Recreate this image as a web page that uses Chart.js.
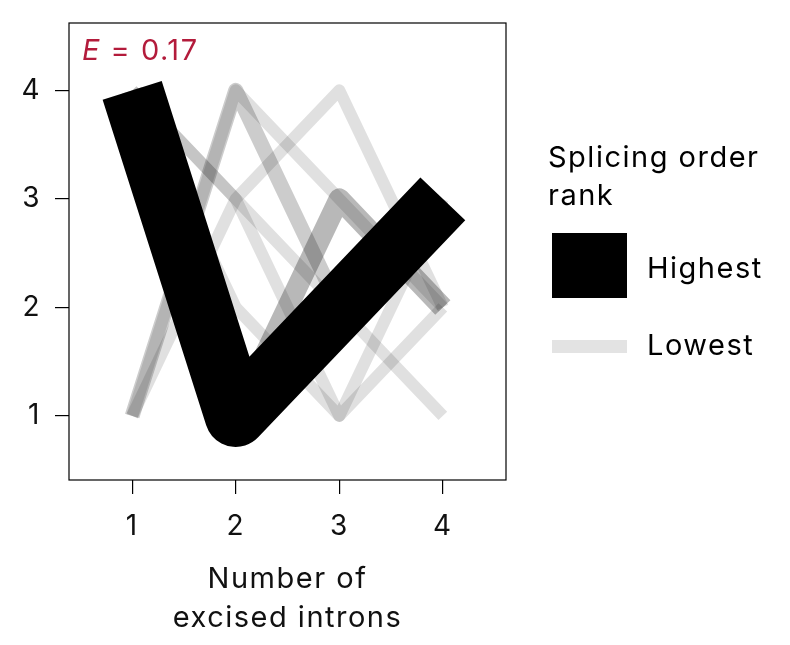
<!DOCTYPE html>
<html>
<head>
<meta charset="utf-8">
<script src="https://cdn.jsdelivr.net/npm/chart.js@4"></script>
<style>
  html, body { margin: 0; padding: 0; background: #fff; }
  canvas { display: block; }
</style>
</head>
<body>
<canvas id="c" width="790" height="645"></canvas>
<script>
/* Порядки сплайсинга: на каждом шаге (число вырезанных интронов) — номер интрона */
const STEPS = [1, 2, 3, 4];
const TICKS = [1, 2, 3, 4];

// от самого частого к редким
const ORDER_TOP = [4, 1, 2, 3];
const ORDER_2 = [4, 1, 3, 2];
const ORDER_3 = [1, 4, 2, 3];
const ORDER_4 = [4, 3, 2, 1];
const ORDER_5 = [4, 3, 1, 2];
const ORDER_6 = [1, 4, 3, 2];
const ORDER_7 = [1, 3, 4, 2];
const ORDER_8 = [4, 2, 1, 3];

const ENTROPY = 0.17;
const FONT = 'Inter, "Noto Sans", sans-serif';

// стиль линии по рангу: толщина и прозрачность
const RANKS = [
    { data: ORDER_TOP, width: 62, color: '#000' },
    { data: ORDER_2, width: 21, color: 'rgba(0,0,0,0.28)' },
    { data: ORDER_3, width: 15, color: 'rgba(0,0,0,0.2)' },
    { data: ORDER_4, width: 12, color: 'rgba(0,0,0,0.12)' },
    { data: ORDER_5, width: 12, color: 'rgba(0,0,0,0.12)' },
    { data: ORDER_6, width: 12, color: 'rgba(0,0,0,0.12)' },
    { data: ORDER_7, width: 12, color: 'rgba(0,0,0,0.12)' },
    { data: ORDER_8, width: 12, color: 'rgba(0,0,0,0.12)' },
];

const boxPlugin = {
    id: 'box',
    beforeDraw(chart) {
        chart.ctx.letterSpacing = '1.5px';
    },
    afterDraw(chart) {
        const { ctx, chartArea: a } = chart;
        ctx.save();
        ctx.strokeStyle = '#000';
        ctx.lineWidth = 1.2;
        ctx.strokeRect(a.left, a.top, a.right - a.left, a.bottom - a.top);

        // E = 0.17
        ctx.fillStyle = '#b31b3b';
        ctx.textBaseline = 'alphabetic';
        ctx.textAlign = 'left';
        ctx.font = 'italic 29px ' + FONT;
        ctx.fillText('E', 82, 60);
        const ew = ctx.measureText('E').width;
        ctx.font = '29px ' + FONT;
        ctx.fillText(' = ' + ENTROPY.toFixed(2), 82 + ew, 60);

        // легенда
        ctx.fillStyle = '#000';
        ctx.fillText('Splicing order', 548, 167);
        ctx.fillText('rank', 548, 205);
        ctx.fillRect(552, 233, 75, 65);
        ctx.fillText('Highest', 647, 278);
        ctx.fillStyle = '#e3e3e3';
        ctx.fillRect(552, 340, 75, 13);
        ctx.fillStyle = '#000';
        ctx.fillText('Lowest', 647, 355);
        ctx.restore();
    },
};

const tickGrid = { display: true, drawOnChartArea: false, drawTicks: true, tickLength: 14, color: '#000', lineWidth: 1.2 };
const tickFont = { family: FONT, size: 28 };

new Chart(document.getElementById('c'), {
    type: 'line',
    data: {
        datasets: RANKS.map((r) => ({
            data: r.data.map((v, i) => ({ x: STEPS[i], y: v })),
            borderColor: r.color,
            borderWidth: r.width,
            borderCapStyle: 'butt',
            borderJoinStyle: 'round',
            pointRadius: 0,
            tension: 0,
            fill: false,
        })),
    },
    options: {
        responsive: false,
        animation: false,
        events: [],
        layout: { padding: { left: 0, top: 23, right: 284, bottom: 0 } },
        plugins: { legend: { display: false }, tooltip: { enabled: false } },
        scales: {
            x: {
                type: 'linear',
                min: 0.39,
                max: 4.61,
                afterFit: (s) => { s.height = 165; s.paddingLeft = 0; s.paddingRight = 0; },
                afterBuildTicks: (s) => { s.ticks = TICKS.map((v) => ({ value: v })); },
                grid: tickGrid,
                border: { display: false },
                ticks: { padding: 16, color: '#111', font: tickFont, callback: (v) => String(v) },
                title: {
                    display: true,
                    text: ['Number of', 'excised introns'],
                    color: '#111',
                    font: { family: FONT, size: 29, lineHeight: 1.35 },
                    padding: { top: 0, bottom: 7 },
                },
            },
            y: {
                type: 'linear',
                min: 0.41,
                max: 4.62,
                afterFit: (s) => { s.width = 69; s.paddingTop = 0; s.paddingBottom = 0; },
                afterBuildTicks: (s) => { s.ticks = TICKS.map((v) => ({ value: v })); },
                grid: tickGrid,
                border: { display: false },
                ticks: { padding: 14, color: '#111', font: tickFont, callback: (v) => String(v) },
            },
        },
    },
    plugins: [boxPlugin],
});
</script>
</body>
</html>
